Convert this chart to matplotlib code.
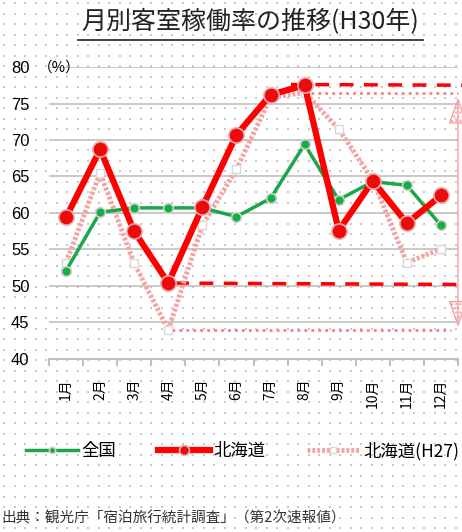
import numpy as np
import matplotlib.pyplot as plt
from matplotlib.patches import FancyArrowPatch

plt.rcParams['font.family'] = ['Noto Sans CJK JP', 'DejaVu Sans']

# datos
meses = ['1月', '2月', '3月', '4月', '5月', '6月', '7月', '8月', '9月', '10月', '11月', '12月']
zenkoku = [52.1, 60.1, 60.7, 60.7, 60.7, 59.5, 62.0, 69.4, 61.8, 64.3, 63.8, 58.3]
hokkaido = [59.4, 68.7, 57.5, 50.4, 60.8, 70.7, 76.2, 77.5, 57.6, 64.4, 58.6, 62.4]
hokkaido_h27 = [53.2, 65.5, 53.1, 44.0, 58.3, 66.0, 75.8, 76.5, 71.5, 64.5, 53.2, 55.1]

fig = plt.figure(figsize=(4.62, 5.32), dpi=100)
fig.patch.set_facecolor('white')

# fondo punteado
bg = fig.add_axes([0, 0, 1, 1], zorder=-10)
gx, gy = np.meshgrid(np.arange(4, 462, 10.5), np.arange(3, 532, 10.5))
bg.scatter(gx.ravel(), gy.ravel(), s=0.6, c='#c8c8c8', marker='s', linewidths=0)
bg.set_xlim(0, 462)
bg.set_ylim(532, 0)
bg.axis('off')

ax = fig.add_axes([49 / 462, 1 - 359 / 532, 409 / 462, 292 / 532])
ax.patch.set_alpha(0)
x = np.arange(len(meses))

ax.set_xlim(-0.5, 11.5)
ax.set_ylim(40, 80)
ax.set_yticks(np.arange(40, 81, 5))
ax.yaxis.grid(True, color='#c0c0c0', lw=1.2)
ax.set_axisbelow(True)
for s in ['top', 'right', 'left']:
    ax.spines[s].set_visible(False)
ax.spines['bottom'].set_color('#c0c0c0')
ax.spines['bottom'].set_linewidth(1.5)
ax.tick_params(axis='y', length=0, labelsize=12, pad=14)
ax.set_xticks(x)
ax.set_xticklabels(meses, rotation=90, fontsize=10)
ax.set_xticks(np.arange(-0.5, 12, 1), minor=True)
ax.tick_params(axis='x', which='major', length=0, pad=14)
ax.tick_params(axis='x', which='minor', length=5, color='#c0c0c0', width=1.5)
for t in ax.get_yticklabels():
    t.set_family(['Liberation Sans', 'DejaVu Sans'])

# lineas auxiliares
ax.plot([6.6, 12.1], [max(hokkaido) + 0.1, max(hokkaido)], color='red', lw=2.5,
        ls=(0, (4, 3)), clip_on=False, zorder=2)
ax.plot([3.2, 12.1], [min(hokkaido), min(hokkaido) - 0.2], color='red', lw=2.5,
        ls=(0, (4, 3)), clip_on=False, zorder=2)
ax.plot([7.2, 11.5], [max(hokkaido_h27) - 0.1, max(hokkaido_h27) - 0.1], color='#f58080',
        lw=2, ls=(0, (1, 1.5)), clip_on=False, zorder=2)
ax.plot([3.1, 11.3], [min(hokkaido_h27), min(hokkaido_h27)], color='#f58080',
        lw=2, ls=(0, (1, 1.5)), clip_on=False, zorder=2)
flecha = FancyArrowPatch((11.5, max(hokkaido_h27) - 0.3), (11.5, min(hokkaido_h27)),
                         arrowstyle='<|-|>,head_length=1.4,head_width=0.5', mutation_scale=12,
                         facecolor='none', edgecolor='#f7a0a0', hatch='....', lw=1,
                         clip_on=False, zorder=2)
ax.add_patch(flecha)

l3, = ax.plot(x, hokkaido_h27, color='#f5a3a3', lw=3.5, ls=(0, (0.6, 0.4)),
              marker='s', ms=6, mfc='white', mec='#d8d8d8', zorder=3)
l1, = ax.plot(x, zenkoku, color='#1aa64a', lw=2.5, marker='o', ms=7,
              mfc='#12b040', mec='#d0d0d0', mew=1.2, zorder=4)
l2, = ax.plot(x, hokkaido, color='#ff0000', lw=4.5, marker='o', ms=11,
              mfc='#ee0a0a', mec='#e8b0b0', mew=1.2, zorder=5)

fig.text(38 / 462, 1 - 68 / 532, '（%）', fontsize=10.5, va='center', ha='left')

fig.text(250 / 462, 1 - 22 / 532, '月別客室稼働率の推移(H30年)', fontsize=18, ha='center',
         va='center', color='#222222')
fig.add_artist(plt.Line2D([78 / 462, 423 / 462], [1 - 40 / 532, 1 - 40 / 532],
                          color='#222222', lw=1.2))

fig.legend([l1, l2, l3], ['全国', '北海道', '北海道(H27)'], loc='center',
           bbox_to_anchor=(0.525, 1 - 451 / 532), ncol=3, frameon=False, fontsize=12.5,
           handlelength=3.0, columnspacing=2.4, handletextpad=0.2, markerscale=0.65)

fig.text(0.002, 1 - 518 / 532, '出典：観光庁「宿泊旅行統計調査」（第2次速報値）', fontsize=10.5,
         ha='left', va='center', color='#333333')

plt.savefig('out.png', dpi=100)
